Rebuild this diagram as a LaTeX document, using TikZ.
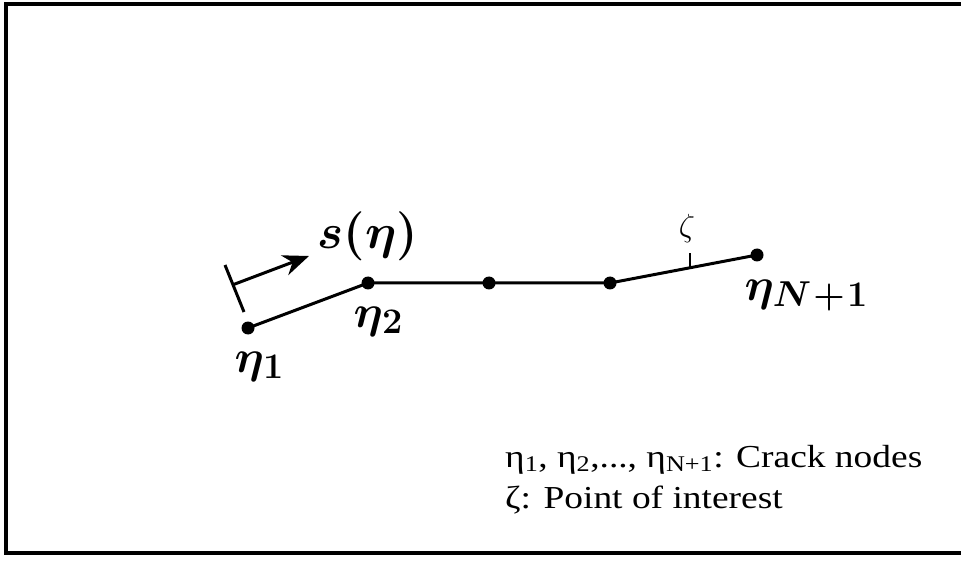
\RequirePackage{fix-cm}
\documentclass[tikz,border=0pt]{standalone}
\usepackage{fontspec}
\usepackage{amsmath}
\usetikzlibrary{arrows.meta,calc}
\newfontfamily\legfont[FakeStretch=1.17]{Liberation Serif}
\newcommand{\elab}[1]{$\eta$\kern-1pt\raisebox{-6pt}{\fontsize{36}{36}\selectfont$#1$}}
\begin{document}
\begin{tikzpicture}[x=1pt,y=-1pt,
  crack/.style={line width=3pt},
  dot/.style={circle,fill=black,inner sep=0pt,minimum size=13pt},
  biglab/.style={inner sep=0pt,font=\fontsize{46}{46}\selectfont\boldmath},
  leg/.style={inner sep=0pt,anchor=base west,font=\fontsize{32}{41}\selectfont\legfont}]
\useasboundingbox (0,0) rectangle (961,561);
\fill[white] (0,0) rectangle (961,561);
% frame
\draw[line width=3.5pt] (975,4) -- (6,4) -- (6,553) -- (975,553);
% crack nodes
\node[dot] (n1) at (248,328) {};
\node[dot] (n2) at (368,283) {};
\node[dot] (n3) at (489,283) {};
\node[dot] (n4) at (610,283) {};
\node[dot] (nN) at (757,255) {};
\draw[crack] (n1.center) -- (n2.center) -- (n3.center) -- (n4.center) -- (nN.center);
% point of interest
\coordinate (zt) at ($(n4.center)!0.545!(nN.center)$);
\coordinate (ztop) at ($(zt)+(0,-15)$);
\draw[line width=1.5pt] (zt) -- (ztop);
\node[inner sep=0pt,font=\fontsize{32}{32}\selectfont] (zeta) at (687,229) {$\zeta$};
% s(eta) arrow
\coordinate (b1) at (225,265);
\coordinate (b2) at (244,312);
\draw[line width=3pt] (b1) -- (b2);
\coordinate (a0) at ($(b1)!0.42!(b2)$);
\coordinate (a1) at (309,256);
\draw[line width=3pt,-{Stealth[length=26pt,width=21pt]}] (a0) -- (a1);
\node[biglab,font=\fontsize{49}{49}\selectfont\boldmath] (s) at (368,236) {$s(\eta)$};
% labels
\node[biglab] (l1) at (259,367) {\elab{1}};
\node[biglab] (l2) at (378,322) {\elab{2}};
\node[biglab] (lN) at (806,296) {\elab{N\!+\!1}};
% legend
\node[leg] (leg1) at (505,467) {η\textsubscript{1}, η\textsubscript{2},..., η\textsubscript{N+1}: Crack nodes};
\node[leg] (leg2) at (505,508) {ζ: Point of interest};
\end{tikzpicture}
\end{document}
